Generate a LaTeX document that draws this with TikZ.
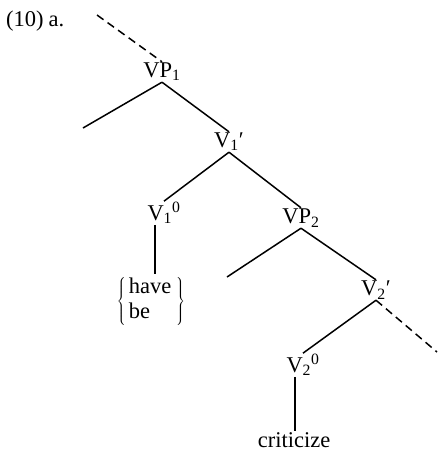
\documentclass[tikz,border=0pt]{standalone}
\usepackage{fontspec}
\setmainfont{Liberation Serif}
\begin{document}
\begin{tikzpicture}[x=1pt,y=-1pt,
  lbl/.style={font=\fontsize{22.5}{26}\selectfont, inner sep=1pt},
  edge/.style={line width=1.5pt},
  dedge/.style={line width=1.5pt, dash pattern=on 8pt off 5pt}]
\useasboundingbox (0,0) rectangle (438,451);
\node[lbl, anchor=west] (title) at (5,21) {(10)\hspace{5pt}a.};
\node[lbl] (vp1) at (162,72) {VP\textsubscript{1}};
\node[lbl] (v1p) at (229,142) {V\textsubscript{1}′};
\node[lbl] (v10) at (164,213) {V\textsubscript{1}\textsuperscript{0}};
\node[lbl] (vp2) at (301,218) {VP\textsubscript{2}};
\node[lbl] (hb) at (151,301) {$\left\{\begin{tabular}{@{\hspace{3pt}}l@{\hspace{5pt}}}\fontsize{22.5}{20}\selectfont have\\[-1pt]\fontsize{22.5}{20}\selectfont be\end{tabular}\right\}$};
\node[lbl] (v2p) at (376,290) {V\textsubscript{2}′};
\node[lbl] (v20) at (303,365) {V\textsubscript{2}\textsuperscript{0}};
\node[lbl] (crit) at (294,440) {criticize};
\coordinate (top) at (97,15);
\coordinate (l1) at (83,128);
\coordinate (l2) at (227,277);
\coordinate (br) at (437,352);
\draw[dedge] (top) -- (vp1.north);
\draw[edge] (vp1.south) -- (l1);
\draw[edge] (vp1.south) -- (v1p.north);
\draw[edge] (v1p.south) -- (v10.north);
\draw[edge] (v1p.south) -- (vp2.north);
\draw[edge] ([xshift=-9pt]v10.south) -- ([xshift=-9pt]v10.south |- hb.north);
\draw[edge] (vp2.south) -- (l2);
\draw[edge] (vp2.south) -- (v2p.north);
\draw[edge] (v2p.south) -- (v20.north);
\draw[dedge] (v2p.south) -- (br);
\draw[edge] ([xshift=-8pt]v20.south) -- ([xshift=-8pt]v20.south |- crit.north);
\end{tikzpicture}
\end{document}
